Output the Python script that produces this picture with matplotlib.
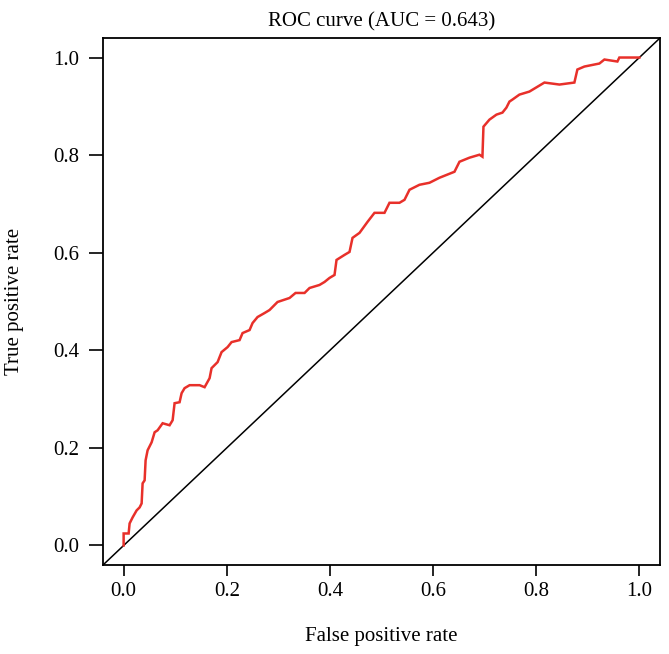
import matplotlib
matplotlib.use("Agg")
import matplotlib.pyplot as plt
import numpy as np

# ROC curve points
fpr = [0.000, 0.000, 0.0097, 0.0116, 0.0174, 0.0252, 0.0310, 0.0349, 0.0368, 0.0407,
       0.0426, 0.0465, 0.0543, 0.0601, 0.0659, 0.0756, 0.0891, 0.0950, 0.0988, 0.1085,
       0.1124, 0.1182, 0.1279, 0.1473, 0.1570, 0.1667, 0.1705, 0.1822, 0.1899, 0.2016,
       0.2093, 0.2248, 0.2306, 0.2442, 0.2500, 0.2597, 0.2733, 0.2829, 0.2984, 0.3217,
       0.3333, 0.3508, 0.3605, 0.3798, 0.3895, 0.3992, 0.4089, 0.4128, 0.4283, 0.4380,
       0.4438, 0.4574, 0.4729, 0.4864, 0.5058, 0.5155, 0.5349, 0.5446, 0.5543, 0.5736,
       0.5930, 0.6124, 0.6415, 0.6512, 0.6705, 0.6899, 0.6957, 0.6977, 0.7093, 0.7229,
       0.7345, 0.7422, 0.7481, 0.7539, 0.7674, 0.7868, 0.8159, 0.8450, 0.8740, 0.8798,
       0.8934, 0.9225, 0.9322, 0.9574, 0.9612, 1.000]
tpr = [0.000, 0.0246, 0.0246, 0.0452, 0.0575, 0.0719, 0.0780, 0.0862, 0.1273, 0.1335,
       0.1745, 0.1951, 0.2115, 0.2320, 0.2361, 0.2505, 0.2464, 0.2567, 0.2916, 0.2936,
       0.3121, 0.3224, 0.3285, 0.3285, 0.3244, 0.3429, 0.3634, 0.3758, 0.3963, 0.4066,
       0.4168, 0.4209, 0.4353, 0.4415, 0.4559, 0.4682, 0.4764, 0.4825, 0.4990, 0.5072,
       0.5175, 0.5175, 0.5277, 0.5339, 0.5400, 0.5483, 0.5544, 0.5852, 0.5955, 0.6016,
       0.6304, 0.6407, 0.6632, 0.6817, 0.6817, 0.7023, 0.7023, 0.7084, 0.7290, 0.7392,
       0.7433, 0.7536, 0.7659, 0.7864, 0.7947, 0.8008, 0.7967, 0.8583, 0.8727, 0.8830,
       0.8871, 0.8973, 0.9097, 0.9138, 0.9240, 0.9302, 0.9487, 0.9446, 0.9487, 0.9754,
       0.9815, 0.9877, 0.9959, 0.9918, 1.0, 1.0]
auc = 0.643
ticks = [0.0, 0.2, 0.4, 0.6, 0.8, 1.0]

plt.rcParams["font.family"] = ["Liberation Serif", "DejaVu Serif"]
plt.rcParams["font.size"] = 15

fig = plt.figure(figsize=(6.69, 6.54), dpi=100)
ax = fig.add_axes([103 / 669, 89 / 654, 557 / 669, 527 / 654])

ax.plot([-0.04, 1.04], [-0.04, 1.04], color="black", lw=1.1)
ax.plot(fpr, tpr, color="#e8302a", lw=1.8, solid_joinstyle="miter")

ax.set_xlim(-0.04, 1.04)
ax.set_ylim(-0.04, 1.04)
ax.set_xticks(ticks)
ax.set_yticks(ticks)
ax.set_xticklabels([f"{t:.1f}" for t in ticks])
ax.set_yticklabels([f"{t:.1f}" for t in ticks])
ax.tick_params(length=8, width=1.2, pad=4)
ax.tick_params(axis="y", length=10, pad=7)
for s in ax.spines.values():
    s.set_linewidth(1.3)

ax.set_title(f"ROC curve (AUC = {auc})", fontsize=15, pad=8)
ax.set_xlabel("False positive rate", labelpad=19)
ax.set_ylabel("True positive rate", labelpad=21)

fig.savefig("out.png", dpi=100, facecolor="white")
